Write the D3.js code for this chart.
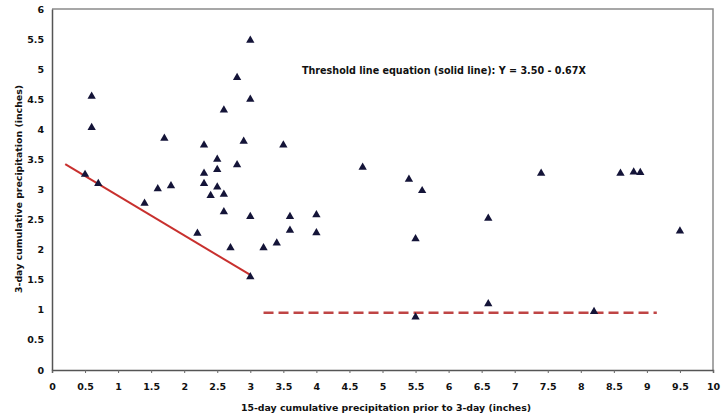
<!DOCTYPE html>
<html>
<head>
<meta charset="utf-8">
<script src="https://cdn.jsdelivr.net/npm/d3@7"></script>
<style>
  body { margin: 0; background: #fff; }
  text { font-family: "DejaVu Sans", Verdana, sans-serif; font-weight: bold; fill: #111; }
</style>
</head>
<body>
<div id="chart"></div>
<script>
// 15-day cumulative precipitation (x) vs 3-day cumulative precipitation (y), inches
const eventX = [0.5, 0.6, 0.6, 0.7, 1.4, 1.6, 1.7, 1.8, 2.2, 2.3, 2.3, 2.3, 2.4, 2.5, 2.5, 2.5,
  2.6, 2.6, 2.6, 2.7, 2.8, 2.8, 2.9, 3.0, 3.0, 3.0, 3.0, 3.2, 3.4, 3.5, 3.6, 3.6, 4.0, 4.0,
  4.7, 5.4, 5.5, 5.5, 5.6, 6.6, 6.6, 7.4, 8.2, 8.6, 8.8, 8.9, 9.5];
const eventY = [3.25, 4.55, 4.03, 3.1, 2.77, 3.01, 3.85, 3.06, 2.27, 3.74, 3.27, 3.1, 2.9, 3.5, 3.33, 3.04,
  2.92, 4.32, 2.63, 2.03, 4.86, 3.41, 3.8, 5.48, 4.5, 2.55, 1.55, 2.03, 2.11, 3.74, 2.55, 2.32, 2.58, 2.28,
  3.37, 3.17, 2.18, 0.88, 2.98, 2.52, 1.1, 3.27, 0.97, 3.27, 3.29, 3.28, 2.31];

const thresholdX = [0.2, 3.0];
const thresholdY = [3.42, 1.58];
const floorX = [3.2, 9.15];
const floorY = [0.95, 0.95];

const xTicks = d3.range(0, 10.01, 0.5);
const yTicks = d3.range(0, 6.01, 0.5);
const equationText = "Threshold line equation (solid line): Y = 3.50 - 0.67X";

const width = 725, height = 416;
const margin = { top: 9, right: 12, bottom: 46, left: 52 };
const innerW = width - margin.left - margin.right;
const innerH = height - margin.top - margin.bottom;

const svg = d3.select("#chart").append("svg")
  .attr("width", width)
  .attr("height", height);

const chart = svg.append("g")
  .attr("transform", `translate(${margin.left},${margin.top})`);

const x = d3.scaleLinear().domain([0, 10]).range([0, innerW]);
const y = d3.scaleLinear().domain([0, 6]).range([innerH, 0]);

const fmt = (d) => (Number.isInteger(d) ? d3.format("d")(d) : d3.format(".1f")(d));

// frame (top and right borders)
chart.append("path")
  .attr("d", `M0,0H${innerW}V${innerH}`)
  .attr("fill", "none")
  .attr("stroke", "#8a8a8a")
  .attr("stroke-width", 1.5);

const xAxis = chart.append("g")
  .attr("transform", `translate(0,${innerH})`)
  .call(d3.axisBottom(x).tickValues(xTicks).tickFormat(fmt).tickSize(3).tickPadding(10));

const yAxis = chart.append("g")
  .call(d3.axisLeft(y).tickValues(yTicks).tickFormat(fmt).tickSize(0).tickPadding(8));

[xAxis, yAxis].forEach((ax) => {
  ax.select(".domain").attr("stroke", "#555").attr("stroke-width", 1.5);
  ax.selectAll(".tick line").attr("stroke", "#666");
  ax.selectAll(".tick text")
    .attr("font-size", 9.5)
    .attr("font-family", "'DejaVu Sans', Verdana, sans-serif")
    .attr("font-weight", "bold")
    .attr("fill", "#111");
});

// threshold line (solid)
const line = d3.line().x((d) => x(d[0])).y((d) => y(d[1]));
chart.append("path")
  .datum(d3.zip(thresholdX, thresholdY))
  .attr("d", line)
  .attr("fill", "none")
  .attr("stroke", "#c8302e")
  .attr("stroke-width", 2);

// lower limit (dashed)
chart.append("path")
  .datum(d3.zip(floorX, floorY))
  .attr("d", line)
  .attr("fill", "none")
  .attr("stroke", "#bf4545")
  .attr("stroke-width", 2.5)
  .attr("stroke-dasharray", "10,5");

// events
chart.selectAll(".pt")
  .data(d3.zip(eventX, eventY))
  .join("path")
  .attr("class", "pt")
  .attr("transform", (d) => `translate(${x(d[0])},${y(d[1])})`)
  .attr("d", d3.symbol().type(d3.symbolTriangle).size(30))
  .attr("fill", "#141438");

chart.append("text")
  .attr("x", 250)
  .attr("y", 65)
  .attr("font-size", 9.6)
  .text(equationText);

svg.append("text")
  .attr("x", 386)
  .attr("y", 411)
  .attr("text-anchor", "middle")
  .attr("font-size", 9.4)
  .text("15-day cumulative precipitation prior to 3-day (inches)");

svg.append("text")
  .attr("transform", `translate(22,${189}) rotate(-90)`)
  .attr("text-anchor", "middle")
  .attr("font-size", 9.4)
  .text("3-day cumulative precipitation (inches)");
</script>
</body>
</html>
